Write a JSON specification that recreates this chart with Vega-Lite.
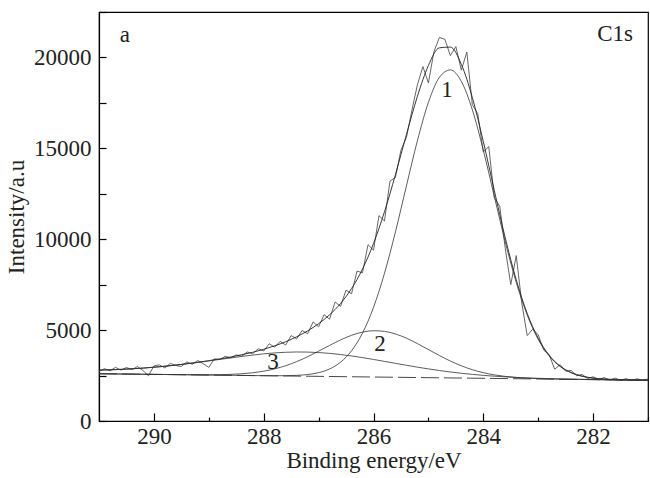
{
  "$schema": "https://vega.github.io/schema/vega-lite/v6.json",
  "width": 549,
  "height": 409,
  "autosize": {"type": "none"},
  "padding": {"left": 99, "top": 12, "right": 2, "bottom": 57},
  "background": "white",
  "config": {
    "view": {"stroke": "#000", "strokeWidth": 1.2},
    "font": "Liberation Serif",
    "axis": {"labelFont": "Liberation Serif", "titleFont": "Liberation Serif", "labelColor": "#222", "titleColor": "#222", "titleFontWeight": "normal", "domainColor": "#000", "domainWidth": 1.2, "tickColor": "#000", "tickWidth": 1.2, "grid": false}
  },
  "datasets": {
    "raw": [
      {"x":291.0,"y":2720},{"x":290.9,"y":2880},{"x":290.8,"y":2760},{"x":290.7,"y":2950},{"x":290.6,"y":2800},
      {"x":290.5,"y":2940},{"x":290.4,"y":2830},{"x":290.3,"y":2990},{"x":290.2,"y":2780},{"x":290.1,"y":2490},
      {"x":290.0,"y":3030},{"x":289.9,"y":3090},{"x":289.8,"y":2920},{"x":289.7,"y":3170},{"x":289.6,"y":3050},
      {"x":289.5,"y":3000},{"x":289.4,"y":3250},{"x":289.3,"y":3120},{"x":289.2,"y":3330},{"x":289.1,"y":3150},
      {"x":289.0,"y":2950},{"x":288.9,"y":3420},{"x":288.8,"y":3380},{"x":288.7,"y":3560},{"x":288.6,"y":3470},
      {"x":288.5,"y":3640},{"x":288.4,"y":3560},{"x":288.3,"y":3800},{"x":288.2,"y":3700},{"x":288.1,"y":3980},
      {"x":288.0,"y":3850},{"x":287.9,"y":4250},{"x":287.8,"y":4060},{"x":287.7,"y":4380},{"x":287.6,"y":4180},
      {"x":287.5,"y":4700},{"x":287.4,"y":4520},{"x":287.3,"y":4980},{"x":287.2,"y":4800},{"x":287.1,"y":5450},
      {"x":287.0,"y":5180},{"x":286.9,"y":5850},{"x":286.8,"y":5600},{"x":286.7,"y":6550},{"x":286.6,"y":6300},
      {"x":286.5,"y":7200},{"x":286.4,"y":7000},{"x":286.3,"y":8250},{"x":286.2,"y":8150},{"x":286.1,"y":9700},
      {"x":286.0,"y":9400},{"x":285.9,"y":11300},{"x":285.8,"y":11000},{"x":285.7,"y":13200},{"x":285.6,"y":13400},
      {"x":285.5,"y":14900},{"x":285.4,"y":15600},{"x":285.3,"y":17100},{"x":285.2,"y":18500},{"x":285.1,"y":19500},
      {"x":285.0,"y":18600},{"x":284.9,"y":20300},{"x":284.8,"y":21100},{"x":284.7,"y":21000},{"x":284.6,"y":20100},
      {"x":284.5,"y":20600},{"x":284.4,"y":19300},{"x":284.3,"y":20300},{"x":284.2,"y":17400},{"x":284.1,"y":16900},
      {"x":284.0,"y":14800},{"x":283.9,"y":15100},{"x":283.8,"y":12300},{"x":283.7,"y":11800},{"x":283.6,"y":9500},
      {"x":283.5,"y":7500},{"x":283.4,"y":9100},{"x":283.3,"y":6500},{"x":283.2,"y":4700},{"x":283.1,"y":5050},
      {"x":283.0,"y":4750},{"x":282.9,"y":3900},{"x":282.8,"y":3650},{"x":282.7,"y":2850},{"x":282.6,"y":3100},
      {"x":282.5,"y":2740},{"x":282.4,"y":2780},{"x":282.3,"y":2490},{"x":282.2,"y":2560},{"x":282.1,"y":2340},
      {"x":282.0,"y":2430},{"x":281.9,"y":2280},{"x":281.8,"y":2390},{"x":281.7,"y":2260},{"x":281.6,"y":2360},
      {"x":281.5,"y":2240},{"x":281.4,"y":2330},{"x":281.3,"y":2230},{"x":281.2,"y":2320},{"x":281.1,"y":2250},
      {"x":281.0,"y":2310}
    ],
    "fit": [
      {"x":291.0,"p1":2600,"p2":2600,"p3":2799,"env":2799},
      {"x":290.8,"p1":2593,"p2":2593,"p3":2816,"env":2816},
      {"x":290.6,"p1":2585,"p2":2585,"p3":2840,"env":2840},
      {"x":290.4,"p1":2578,"p2":2578,"p3":2873,"env":2873},
      {"x":290.2,"p1":2571,"p2":2571,"p3":2910,"env":2910},
      {"x":290.0,"p1":2564,"p2":2565,"p3":2957,"env":2958},
      {"x":289.8,"p1":2557,"p2":2559,"p3":3012,"env":3014},
      {"x":289.6,"p1":2550,"p2":2554,"p3":3074,"env":3078},
      {"x":289.4,"p1":2542,"p2":2548,"p3":3146,"env":3152},
      {"x":289.2,"p1":2535,"p2":2544,"p3":3222,"env":3231},
      {"x":289.0,"p1":2528,"p2":2543,"p3":3304,"env":3319},
      {"x":288.8,"p1":2521,"p2":2549,"p3":3388,"env":3416},
      {"x":288.6,"p1":2514,"p2":2565,"p3":3469,"env":3521},
      {"x":288.4,"p1":2506,"p2":2599,"p3":3553,"env":3645},
      {"x":288.2,"p1":2499,"p2":2653,"p3":3626,"env":3780},
      {"x":288.0,"p1":2494,"p2":2741,"p3":3694,"env":3945},
      {"x":287.8,"p1":2491,"p2":2868,"p3":3747,"env":4136},
      {"x":287.6,"p1":2493,"p2":3041,"p3":3781,"env":4361},
      {"x":287.4,"p1":2511,"p2":3267,"p3":3797,"env":4633},
      {"x":287.2,"p1":2557,"p2":3536,"p3":3791,"env":4958},
      {"x":287.0,"p1":2659,"p2":3840,"p3":3766,"env":5353},
      {"x":286.8,"p1":2863,"p2":4158,"p3":3720,"env":5843},
      {"x":286.6,"p1":3233,"p2":4459,"p3":3656,"env":6466},
      {"x":286.4,"p1":3861,"p2":4714,"p3":3578,"env":7283},
      {"x":286.2,"p1":4838,"p2":4890,"p3":3486,"env":8360},
      {"x":286.0,"p1":6249,"p2":4966,"p3":3386,"env":9761},
      {"x":285.8,"p1":8125,"p2":4931,"p3":3280,"env":11510},
      {"x":285.6,"p1":10409,"p2":4788,"p3":3171,"env":13558},
      {"x":285.4,"p1":12936,"p2":4556,"p3":3066,"env":15760},
      {"x":285.2,"p1":15424,"p2":4258,"p3":2962,"env":17862},
      {"x":285.0,"p1":17526,"p2":3931,"p3":2866,"env":19555},
      {"x":284.8,"p1":18903,"p2":3603,"p3":2777,"env":20529},
      {"x":284.6,"p1":19314,"p2":3298,"p3":2696,"env":20570},
      {"x":284.4,"p1":18684,"p2":3037,"p3":2626,"env":19621},
      {"x":284.2,"p1":17123,"p2":2822,"p3":2564,"env":17799},
      {"x":284.0,"p1":14901,"p2":2658,"p3":2511,"env":15374},
      {"x":283.8,"p1":12365,"p2":2538,"p3":2466,"env":12687},
      {"x":283.6,"p1":9852,"p2":2454,"p3":2428,"env":10066},
      {"x":283.4,"p1":7626,"p2":2397,"p3":2397,"env":7766},
      {"x":283.2,"p1":5826,"p2":2358,"p3":2370,"env":5916},
      {"x":283.0,"p1":4493,"p2":2333,"p3":2349,"env":4551},
      {"x":282.8,"p1":3579,"p2":2315,"p3":2331,"env":3615},
      {"x":282.6,"p1":2996,"p2":2302,"p3":2315,"env":3019},
      {"x":282.4,"p1":2652,"p2":2291,"p3":2304,"env":2667},
      {"x":282.2,"p1":2458,"p2":2284,"p3":2292,"env":2468},
      {"x":282.0,"p1":2355,"p2":2276,"p3":2282,"env":2361},
      {"x":281.8,"p1":2303,"p2":2269,"p3":2273,"env":2307},
      {"x":281.6,"p1":2276,"p2":2262,"p3":2264,"env":2277},
      {"x":281.4,"p1":2259,"p2":2254,"p3":2256,"env":2258},
      {"x":281.2,"p1":2248,"p2":2247,"p3":2248,"env":2248},
      {"x":281.0,"p1":2240,"p2":2240,"p3":2241,"env":2241}
    ],
    "base": [{"x":291.0,"y":2600},{"x":281.0,"y":2240}],
    "labels": [
      {"x":290.53,"y":21230,"t":"a"},
      {"x":281.6,"y":21280,"t":"C1s"},
      {"x":284.66,"y":18200,"t":"1"},
      {"x":285.88,"y":4260,"t":"2"},
      {"x":287.83,"y":3250,"t":"3"}
    ]
  },
  "layer": [
    {
      "data": {"name": "raw"},
      "mark": {"type": "line", "stroke": "#555", "strokeWidth": 0.9, "clip": true},
      "encoding": {
        "x": {"field": "x", "type": "quantitative",
              "scale": {"domain": [281, 291], "reverse": true, "nice": false, "zero": false},
              "axis": {"values": [281,282,283,284,285,286,287,288,289,290],
                       "labelExpr": "datum.value % 2 == 0 ? datum.label : ''",
                       "tickSize": {"condition": {"test": "datum.value % 2 == 0", "value": -8}, "value": -4},
                       "labelPadding": 12, "labelFontSize": 23, "title": "Binding energy/eV", "titleFontSize": 23, "titlePadding": 1, "format": "d"}},
        "y": {"field": "y", "type": "quantitative",
              "scale": {"domain": [0, 22500], "nice": false},
              "axis": {"values": [0,2500,5000,7500,10000,12500,15000,17500,20000,22500],
                       "labelExpr": "datum.value % 5000 == 0 ? datum.label : ''",
                       "tickSize": -7, "labelPadding": 15, "labelFontSize": 23, "format": "d",
                       "title": "Intensity/a.u", "titleFontSize": 23, "titlePadding": 5}}
      }
    },
    {
      "data": {"name": "fit"},
      "mark": {"type": "line", "stroke": "#222", "strokeWidth": 0.9, "interpolate": "monotone"},
      "encoding": {"x": {"field": "x", "type": "quantitative"}, "y": {"field": "env", "type": "quantitative"}}
    },
    {
      "data": {"name": "fit"},
      "mark": {"type": "line", "stroke": "#333", "strokeWidth": 0.8, "interpolate": "monotone"},
      "encoding": {"x": {"field": "x", "type": "quantitative"}, "y": {"field": "p1", "type": "quantitative"}}
    },
    {
      "data": {"name": "fit"},
      "mark": {"type": "line", "stroke": "#333", "strokeWidth": 0.8, "interpolate": "monotone"},
      "encoding": {"x": {"field": "x", "type": "quantitative"}, "y": {"field": "p2", "type": "quantitative"}}
    },
    {
      "data": {"name": "fit"},
      "mark": {"type": "line", "stroke": "#333", "strokeWidth": 0.8, "interpolate": "monotone"},
      "encoding": {"x": {"field": "x", "type": "quantitative"}, "y": {"field": "p3", "type": "quantitative"}}
    },
    {
      "data": {"name": "base"},
      "mark": {"type": "line", "stroke": "#333", "strokeWidth": 0.9, "strokeDash": [18, 5]},
      "encoding": {"x": {"field": "x", "type": "quantitative"}, "y": {"field": "y", "type": "quantitative"}}
    },
    {
      "data": {"name": "labels"},
      "mark": {"type": "text", "font": "Liberation Serif", "fontSize": 23, "fill": "#222", "baseline": "middle", "align": "center"},
      "encoding": {"x": {"field": "x", "type": "quantitative"}, "y": {"field": "y", "type": "quantitative"}, "text": {"field": "t"}}
    }
  ]
}
